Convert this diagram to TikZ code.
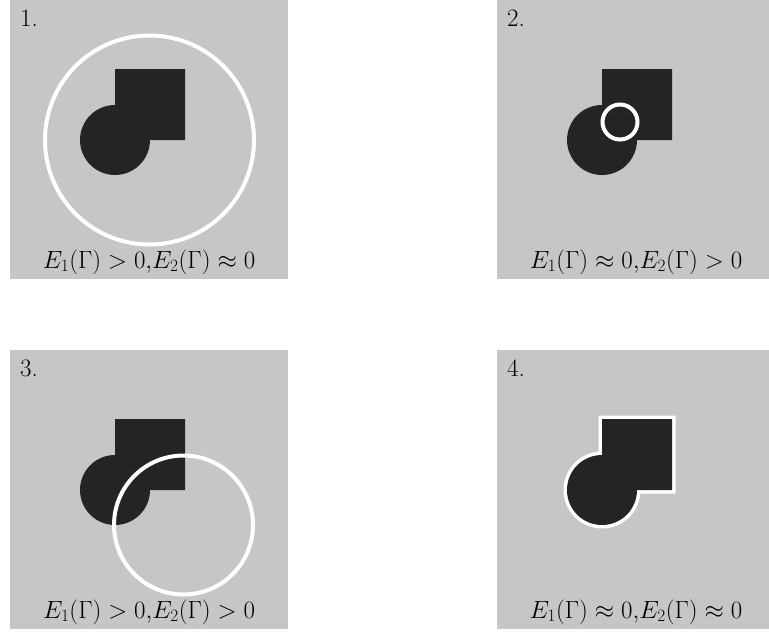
\documentclass[tikz,border=0pt]{standalone}
\usepackage{xcolor}
\usepackage{tikz}
\usetikzlibrary{positioning}
\definecolor{scangray}{HTML}{C6C6C6}
\definecolor{blobdark}{HTML}{242424}

\begin{document}
\begin{tikzpicture}[x=1pt, y=-1pt,
    panel/.style={fill=scangray},
    blob/.style={fill=blobdark},
    contour/.style={draw=white, line width=4pt},
    panelno/.style={anchor=base west, inner sep=0pt, font=\fontsize{25}{30}\selectfont},
    energy/.style={anchor=base, inner sep=0pt, font=\fontsize{25}{30}\selectfont}]
  \useasboundingbox (0,0) rectangle (769,633);

  % 1. contour far outside the object
  \begin{scope}[shift={(10,0)}]
    \fill[panel] (0,0) rectangle (278,279);
    \fill[blob] (105,69) rectangle (175,140) (105,140) circle[radius=35pt];
    \draw[contour] (139.5,140) circle[radius=104.5pt];
    \node[panelno] (num1) at (10,26) {1.};
    \node[energy] (energy1) at (139,268) {$E_1(\Gamma)>0{,}E_2(\Gamma)\approx0$};
  \end{scope}

  % 2. contour inside the object
  \begin{scope}[shift={(497,0)}]
    \fill[panel] (0,0) rectangle (278,279);
    \fill[blob] (105,69) rectangle (175,140) (105,140) circle[radius=35pt];
    \draw[contour] (123,122) circle[radius=17.5pt];
    \node[panelno] (num2) at (10,26) {2.};
    \node[energy] (energy2) at (139,268) {$E_1(\Gamma)\approx0{,}E_2(\Gamma)>0$};
  \end{scope}

  % 3. contour across the boundary
  \begin{scope}[shift={(10,350)}]
    \fill[panel] (0,0) rectangle (278,279);
    \fill[blob] (105,69) rectangle (175,140) (105,140) circle[radius=35pt];
    \draw[contour] (173.5,175) circle[radius=69.5pt];
    \node[panelno] (num3) at (10,26) {3.};
    \node[energy] (energy3) at (139,268) {$E_1(\Gamma)>0{,}E_2(\Gamma)>0$};
  \end{scope}

  % 4. contour on the boundary
  \begin{scope}[shift={(497,350)}]
    \fill[panel] (0,0) rectangle (278,279);
    \draw[white, line width=7pt] (105,69) rectangle (175,140) (105,140) circle[radius=35pt];
    \fill[blob] (105,69) rectangle (175,140) (105,140) circle[radius=35pt];
    \node[panelno] (num4) at (10,26) {4.};
    \node[energy] (energy4) at (139,268) {$E_1(\Gamma)\approx0{,}E_2(\Gamma)\approx0$};
  \end{scope}
\end{tikzpicture}
\end{document}
